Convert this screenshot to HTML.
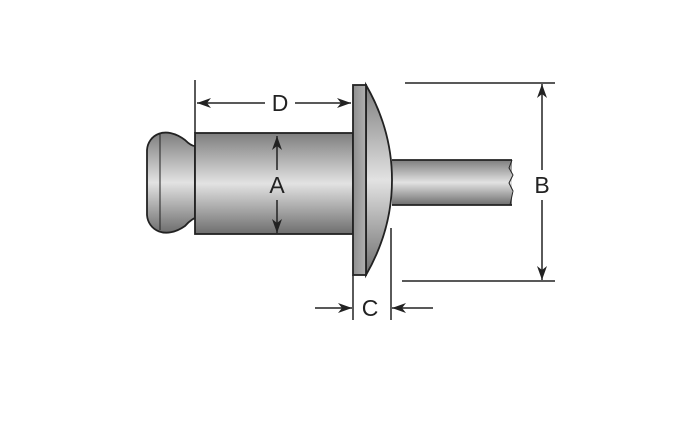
<!DOCTYPE html>
<html><head><style>body{margin:0;background:#fff}svg{display:block}</style></head><body>
<svg width="700" height="426" viewBox="0 0 700 426" xmlns="http://www.w3.org/2000/svg">
<defs>
<linearGradient id="g" x1="0" y1="0" x2="0" y2="1">
<stop offset="0" stop-color="#7e7e7e"/><stop offset="0.5" stop-color="#e2e2e2"/><stop offset="1" stop-color="#6e6e6e"/>
</linearGradient>
<linearGradient id="gf" x1="0" y1="0" x2="1" y2="0">
<stop offset="0" stop-color="#8f8f8f"/><stop offset="1" stop-color="#b0b0b0"/>
</linearGradient>
<marker id="ar" markerWidth="14" markerHeight="10" refX="14" refY="5" orient="auto" markerUnits="userSpaceOnUse">
<path d="M0,0 L14,5 L0,10 L4,5z" fill="#222"/></marker>
</defs>
<g stroke="#222" stroke-width="1.8">
<path d="M185,140 C165,125 148,135 147,150 L147,215 C148,230 165,240 185,226 C190,220 195,218 195,218 L195,146 C192,146 188,143 185,140z" fill="url(#g)"/>
<line x1="160" y1="134" x2="160" y2="230" stroke-width="1"/>
<rect x="195" y="133" width="158" height="101" fill="url(#g)"/>
<rect x="392" y="160" width="120" height="45" fill="url(#g)" stroke="none"/>
<line x1="392" y1="160" x2="512" y2="160"/><line x1="392" y1="205" x2="512" y2="205"/>
<path d="M512,160 l-3,8 l4,7 l-4,8 l4,8 l-3,14" fill="none" stroke-width="1"/>
<path d="M366,85 Q392,130 392,180 Q392,230 366,275z" fill="url(#g)"/>
<rect x="353" y="85" width="13" height="190" fill="url(#gf)"/>
</g>
<g stroke="#222" stroke-width="1.5" fill="none">
<line x1="195" y1="80" x2="195" y2="133"/>
<line x1="265" y1="103" x2="197" y2="103" marker-end="url(#ar)"/>
<line x1="295" y1="103" x2="351" y2="103" marker-end="url(#ar)"/>
<line x1="277" y1="170" x2="277" y2="136" marker-end="url(#ar)"/>
<line x1="277" y1="200" x2="277" y2="233" marker-end="url(#ar)"/>
<line x1="405" y1="83" x2="555" y2="83"/>
<line x1="402" y1="281" x2="555" y2="281"/>
<line x1="542" y1="170" x2="542" y2="84" marker-end="url(#ar)"/>
<line x1="542" y1="200" x2="542" y2="280" marker-end="url(#ar)"/>
<line x1="353" y1="275" x2="353" y2="320"/>
<line x1="391" y1="228" x2="391" y2="320"/>
<line x1="315" y1="308" x2="352" y2="308" marker-end="url(#ar)"/>
<line x1="433" y1="308" x2="392" y2="308" marker-end="url(#ar)"/>
</g>
<g font-family="Liberation Sans, sans-serif" font-size="23" fill="#222" text-anchor="middle">
<text x="280" y="111">D</text>
<text x="277" y="193">A</text>
<text x="542" y="193">B</text>
<text x="370" y="316">C</text>
</g>
</svg>
</body></html>
